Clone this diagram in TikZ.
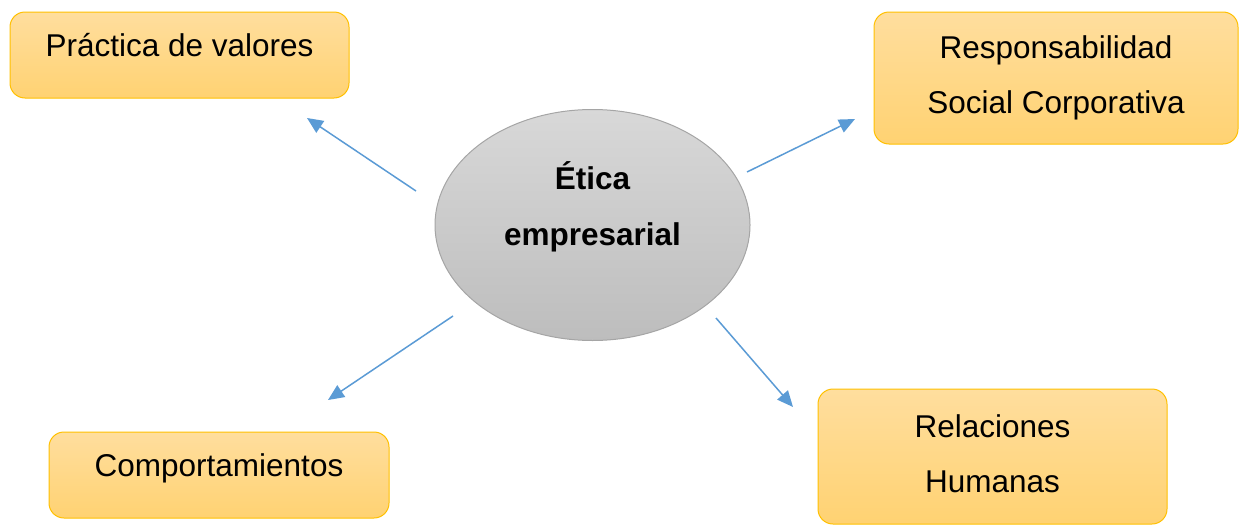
\documentclass[tikz,border=0pt]{standalone}
\usepackage{fontspec}
\setmainfont{Liberation Sans}
\usetikzlibrary{arrows.meta, shapes.geometric, positioning}
\definecolor{boxtop}{HTML}{FFDE9E}
\definecolor{boxbot}{HTML}{FFD272}
\definecolor{boxedge}{HTML}{FFC000}
\definecolor{elltop}{HTML}{D8D8D8}
\definecolor{ellbot}{HTML}{BDBDBD}
\definecolor{elledge}{HTML}{A5A5A5}
\definecolor{linkblue}{HTML}{5B9BD5}
\tikzset{
    conceptbox/.style={draw=boxedge, line width=1pt, rounded corners=15pt,
        top color=boxtop, bottom color=boxbot, inner sep=0pt, align=center,
        font=\fontsize{31.5}{55}\selectfont},
    oneline/.style={text height=24pt, text depth=22pt},
    twoline/.style={text height=79pt, text depth=8pt},
    core/.style={ellipse, draw=elledge, line width=1pt, top color=elltop, bottom color=ellbot,
        inner sep=0pt, minimum width=315pt, minimum height=231pt, align=center,
        text height=86pt, text depth=46pt,
        font=\bfseries\fontsize{31.5}{56}\selectfont},
    link/.style={draw=linkblue, line width=1.5pt, -{Triangle[length=16pt,width=14pt]}}
}
\begin{document}
\begin{tikzpicture}[x=1pt, y=-1pt]
    \useasboundingbox (0,0) rectangle (1244,525);
    % centre
    \node[core] (etica) at (592.5,225) {Ética\\empresarial};
    % the four boxes
    \node[conceptbox, oneline, minimum width=339pt, minimum height=86pt] (valores) at (179.5,55) {Práctica de valores};
    \node[conceptbox, twoline, minimum width=364pt, minimum height=132pt] (rsc) at (1056,78) {Responsabilidad\\Social Corporativa};
    \node[conceptbox, oneline, minimum width=340pt, minimum height=86pt] (comport) at (219,475) {Comportamientos};
    \node[conceptbox, twoline, minimum width=349pt, minimum height=135pt] (relac) at (992.5,456.5) {Relaciones\\Humanas};
    % arrow ends
    \coordinate (v1) at (416,191);
    \coordinate (v2) at (307,118);
    \coordinate (r1) at (747,172);
    \coordinate (r2) at (855,119);
    \coordinate (c1) at (453,316);
    \coordinate (c2) at (328,400);
    \coordinate (h1) at (716,318);
    \coordinate (h2) at (793,407);
    \draw[link] (v1) -- (v2);
    \draw[link] (r1) -- (r2);
    \draw[link] (c1) -- (c2);
    \draw[link] (h1) -- (h2);
\end{tikzpicture}
\end{document}
